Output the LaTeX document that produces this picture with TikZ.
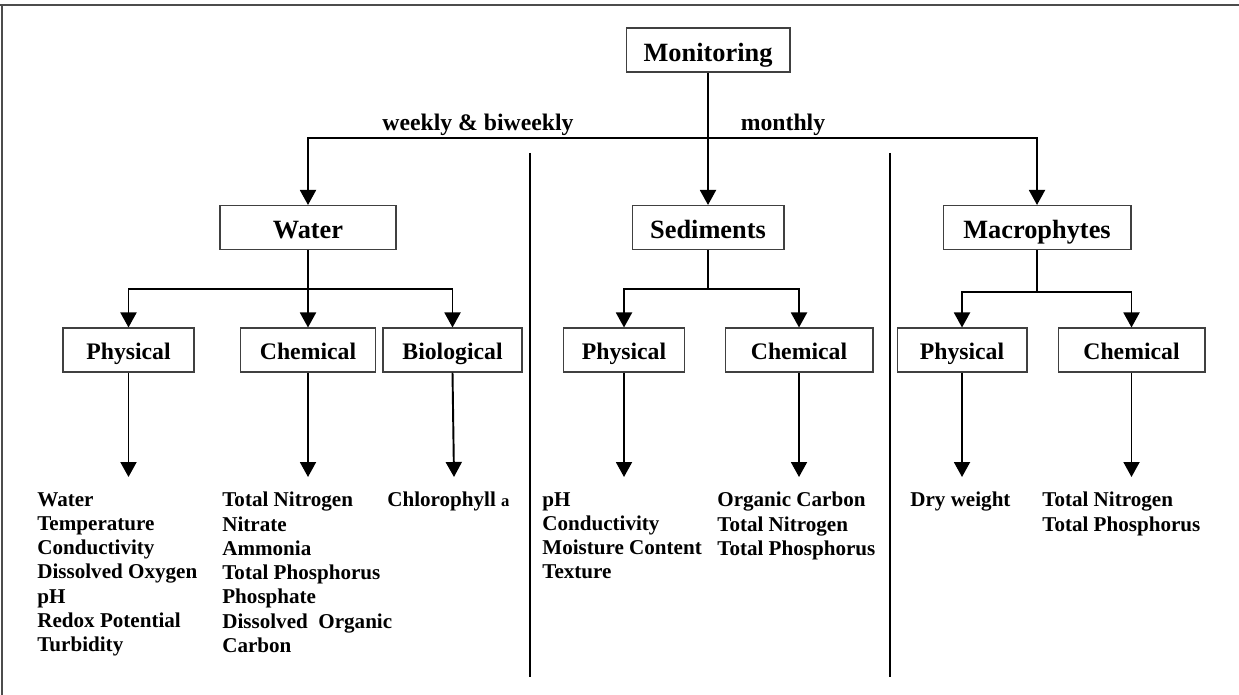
\documentclass[tikz,border=0pt]{standalone}
\usepackage{fontspec}
\setmainfont{Liberation Serif}
\usetikzlibrary{arrows.meta}

\begin{document}
\begin{tikzpicture}[x=0.02cm, y=-0.02cm,
    topbox/.style={rectangle, draw=black!75, line width=0.6pt, minimum height=0.88cm, inner sep=0pt, text height=13pt, text depth=0pt, font=\fontsize{15}{17}\selectfont\bfseries},
    subbox/.style={rectangle, draw=black!75, line width=0.6pt, minimum height=0.88cm, inner sep=0pt, text height=10.8pt, text depth=0pt, font=\fontsize{13.5}{15}\selectfont\bfseries},
    items/.style={anchor=north west, align=left, inner sep=0pt, font=\fontsize{12}{13.8}\selectfont\bfseries},
    freq/.style={anchor=base, inner sep=0pt, font=\fontsize{13.5}{15}\selectfont\bfseries},
    link/.style={line width=1.1pt},
    arrow/.style={-{Triangle[length=0.3cm, width=0.32cm]}, line width=1.1pt},
    divider/.style={line width=0.8pt}
]
    \useasboundingbox (0,0) rectangle (1239,695);
    % Frame (top and left edges only)
    \draw[black!70, line width=0.8pt] (0,5) -- (1239,5);
    \draw[black!70, line width=0.8pt] (2,5) -- (2,695);

    % Top: Monitoring
    \node[topbox, minimum width=3.28cm, text height=13.6pt] (mon) at (708,50) {Monitoring};

    % Second level
    \node[topbox, minimum width=3.52cm] (water) at (308,227.5) {Water};
    \node[topbox, minimum width=3.04cm] (sed) at (708,227.5) {Sediments};
    \node[topbox, minimum width=3.76cm] (mac) at (1037,227.5) {Macrophytes};

    \coordinate (split) at (708,138);
    \draw[arrow] (mon) -- (sed);
    \draw[arrow] (split) -| (water);
    \draw[arrow] (split) -| (mac);
    \node[freq] (weekly) at (478,131) {weekly \& biweekly};
    \node[freq] (monthly) at (783,131) {monthly};

    % Dividers
    \draw[divider] (530,153) -- (530,677);
    \draw[divider] (890,153) -- (890,677);

    % Water branch
    \node[subbox, minimum width=2.62cm] (wphys) at (128.5,350) {Physical};
    \node[subbox, minimum width=2.70cm] (wchem) at (308,350) {Chemical};
    \node[subbox, minimum width=2.78cm] (wbio) at (452.5,350) {Biological};
    \coordinate (wsplit) at (308,289);
    \draw[link] (water) -- (wsplit);
    \draw[arrow] (wsplit) -| (wphys);
    \draw[arrow] (wsplit) -- (wchem);
    \draw[arrow] (wsplit) -| (wbio);

    % Sediments branch
    \node[subbox, minimum width=2.42cm] (sphys) at (624,350) {Physical};
    \node[subbox, minimum width=2.96cm] (schem) at (799,350) {Chemical};
    \coordinate (ssplit) at (708,289);
    \draw[link] (sed) -- (ssplit);
    \draw[arrow] (ssplit) -| (sphys);
    \draw[arrow] (ssplit) -| (schem);

    % Macrophytes branch
    \node[subbox, minimum width=2.60cm] (mphys) at (962,350) {Physical};
    \node[subbox, minimum width=2.94cm] (mchem) at (1131.5,350) {Chemical};
    \coordinate (msplit) at (1037,292);
    \draw[link] (mac) -- (msplit);
    \draw[arrow] (msplit) -| (mphys);
    \draw[arrow] (msplit) -| (mchem);

    % Arrows down to the parameter lists
    \coordinate (wphysend) at (128.5,477);
    \coordinate (wchemend) at (308,477);
    \coordinate (wbioend) at (454,477);
    \coordinate (sphysend) at (624,477);
    \coordinate (schemend) at (799,477);
    \coordinate (mphysend) at (962,477);
    \coordinate (mchemend) at (1131.5,477);
    \draw[arrow] (wphys) -- (wphysend);
    \draw[arrow] (wchem) -- (wchemend);
    \draw[arrow] (wbio.south) -- (wbioend);
    \draw[arrow] (sphys) -- (sphysend);
    \draw[arrow] (schem) -- (schemend);
    \draw[arrow] (mphys) -- (mphysend);
    \draw[arrow] (mchem) -- (mchemend);

    % Parameter lists
    \node[items] (wphyslist) at (37,492) {Water\\Temperature\\Conductivity\\Dissolved Oxygen\\pH\\Redox Potential\\Turbidity};
    \node[items] (wchemlist) at (222,492) {Total Nitrogen\\Nitrate\\Ammonia\\Total Phosphorus\\Phosphate\\Dissolved\ \ Organic\\Carbon};
    \node[items] (wbiolist) at (387,492) {Chlorophyll {\fontsize{9.5}{11}\selectfont a}};
    \node[items] (sphyslist) at (542,492) {pH\\Conductivity\\Moisture Content\\Texture};
    \node[items] (schemlist) at (717,492) {Organic Carbon\\Total Nitrogen\\Total Phosphorus};
    \node[items] (mphyslist) at (910,492) {Dry weight};
    \node[items] (mchemlist) at (1042,492) {Total Nitrogen\\Total Phosphorus};
\end{tikzpicture}
\end{document}
